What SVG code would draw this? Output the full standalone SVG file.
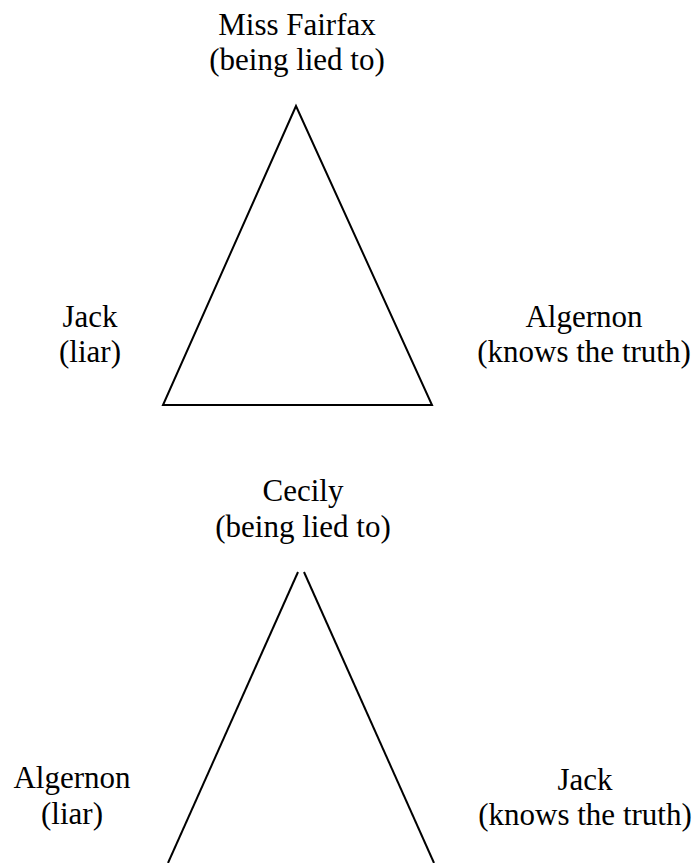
<svg xmlns="http://www.w3.org/2000/svg" width="699" height="863" viewBox="0 0 699 863">
<style>
text{font-family:"Liberation Serif","Times New Roman",serif;font-size:31px;fill:#000;text-anchor:middle}
.edge{stroke:#000;stroke-width:2;fill:none}
</style>
<rect width="699" height="863" fill="#fff"/>
<g id="miss-fairfax"><text x="297" y="35">Miss Fairfax</text><text x="297" y="70">(being lied to)</text></g>
<g id="jack-top"><text x="90" y="327">Jack</text><text x="90" y="362">(liar)</text></g>
<g id="algernon-top"><text x="584" y="327">Algernon</text><text x="584" y="362">(knows the truth)</text></g>
<g id="cecily"><text x="303" y="501">Cecily</text><text x="303" y="537">(being lied to)</text></g>
<g id="algernon-bottom"><text x="72" y="788">Algernon</text><text x="72" y="824">(liar)</text></g>
<g id="jack-bottom"><text x="585" y="790">Jack</text><text x="585" y="825">(knows the truth)</text></g>
<g id="connectors">
<polygon class="edge" points="296,106 163,405 432,405"/>
<line class="edge" x1="298" y1="572" x2="168" y2="863"/>
<line class="edge" x1="304" y1="572" x2="434" y2="863"/>
</g>
</svg>
